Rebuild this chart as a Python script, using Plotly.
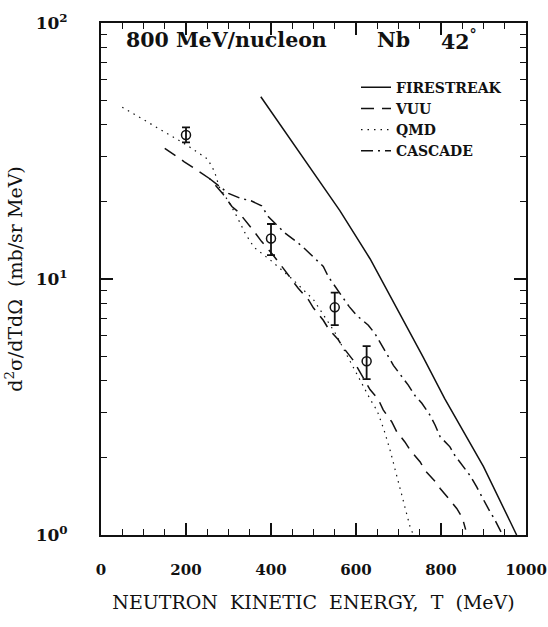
import plotly.graph_objects as go

# ---- data ----
fire_T = [376, 409, 489, 562, 633, 704, 758, 809, 900, 978]
fire_v = [51.5, 43.0, 27.5, 18.5, 12.0, 7.3, 4.95, 3.4, 1.85, 1.0]

vuu_T = [150, 178, 196, 225, 255, 286, 308, 323, 339, 358, 378, 400, 429, 452,
         464, 488, 500, 523, 535, 558, 570, 594, 617, 633, 652, 664, 684, 696,
         715, 727, 751, 762, 786, 798, 821, 837, 850, 858]
vuu_v = [32.4, 30.0, 28.7, 26.7, 24.7, 21.6, 19.2, 18.3, 17.0, 15.5, 14.0, 12.7, 11.0, 9.8,
         9.2, 8.3, 7.7, 6.9, 6.4, 5.8, 5.4, 4.8, 4.1, 3.7, 3.4, 3.08, 2.77, 2.53,
         2.31, 2.15, 1.93, 1.79, 1.62, 1.52, 1.37, 1.27, 1.17, 1.05]

qmd_T = [50, 100, 150, 200, 251, 267, 278, 304, 320, 340, 360, 400, 450, 500,
         550, 600, 633, 650, 665, 680, 700, 727, 735]
qmd_v = [46.9, 42.0, 37.5, 33.5, 29.4, 26.3, 22.9, 19.6, 17.5, 15.0, 13.3, 11.8, 10.0, 8.3,
         6.2, 4.3, 3.4, 3.05, 2.6, 2.15, 1.6, 1.08, 1.0]

casc_T = [255, 300, 327, 353, 378, 394, 433, 460, 480, 500, 523, 535, 584, 602,
          629, 645, 656, 674, 688, 702, 723, 739, 755, 774, 786, 798, 821, 833,
          849, 868, 884, 896, 911, 925, 945]
casc_v = [24.7, 21.6, 20.7, 20.2, 19.3, 17.5, 15.1, 14.0, 13.1, 12.2, 11.2, 10.2, 7.8, 7.2,
          6.6, 6.1, 5.7, 5.05, 4.6, 4.28, 3.85, 3.5, 3.27, 2.94, 2.69, 2.42, 2.21, 2.04,
          1.88, 1.71, 1.54, 1.41, 1.27, 1.16, 1.0]

exp_T = [200, 400, 550, 625]
exp_v = [36.5, 14.4, 7.75, 4.77]
exp_hi = [39.1, 16.4, 8.84, 5.47]
exp_lo = [34.2, 12.4, 6.6, 4.06]

x_ticks = [0, 200, 400, 600, 800, 1000]
y_ticks = [1, 10, 100]
y_ticktext = ["10<sup>0</sup>", "10<sup>1</sup>", "10<sup>2</sup>"]

FONT = "DejaVu Serif"
BLK = "#111111"

fig = go.Figure()
fig.add_trace(go.Scatter(x=fire_T, y=fire_v, mode="lines", name="FIRESTREAK",
                         line=dict(color=BLK, width=1.5, dash="solid")))
fig.add_trace(go.Scatter(x=vuu_T, y=vuu_v, mode="lines", name="VUU",
                         line=dict(color=BLK, width=1.5, dash="13px,8px")))
fig.add_trace(go.Scatter(x=qmd_T, y=qmd_v, mode="lines", name="QMD",
                         line=dict(color=BLK, width=1.2, dash="1.5px,5px")))
fig.add_trace(go.Scatter(x=casc_T, y=casc_v, mode="lines", name="CASCADE",
                         line=dict(color=BLK, width=1.5, dash="12px,5px,2px,5px")))
fig.add_trace(go.Scatter(
    x=exp_T, y=exp_v, mode="markers", showlegend=False,
    marker=dict(symbol="circle-open", size=9, color=BLK, line=dict(width=1.5, color=BLK)),
    error_y=dict(type="data", symmetric=False,
                 array=[h - v for h, v in zip(exp_hi, exp_v)],
                 arrayminus=[v - l for v, l in zip(exp_v, exp_lo)],
                 color=BLK, thickness=1.8, width=4)))

axis_common = dict(showline=True, linecolor=BLK, linewidth=2, mirror="allticks",
                   ticks="inside", tickcolor=BLK, showgrid=False, zeroline=False,
                   ticklabeloverflow="allow", automargin=False)

fig.update_xaxes(range=[0, 1000], tickvals=x_ticks, ticklen=12, tickwidth=1.5,
                 ticklabelstandoff=20,
                 tickfont=dict(family=FONT, size=15, color=BLK, weight="bold"),
                 minor=dict(dtick=50, ticks="inside", ticklen=6, tickwidth=1.2, tickcolor=BLK),
                 title=dict(text="NEUTRON  KINETIC  ENERGY,  T  (MeV)",
                            font=dict(family=FONT, size=19, color=BLK), standoff=18),
                 **axis_common)
fig.update_yaxes(type="log", range=[0, 2], tickvals=y_ticks, ticktext=y_ticktext,
                 ticklen=12, tickwidth=1.5, ticklabelstandoff=28,
                 tickfont=dict(family=FONT, size=17, color=BLK, weight="bold"),
                 minor=dict(dtick="D1", ticks="inside", ticklen=6, tickwidth=1.2, tickcolor=BLK),
                 title=dict(text="d<sup>2</sup>σ/dTdΩ  (mb/sr MeV)",
                            font=dict(family=FONT, size=19, color=BLK), standoff=8),
                 **axis_common)

for txt, xp in [("800 MeV/nucleon", 0.053), ("Nb", 0.645), ("42<sup>°</sup>", 0.795)]:
    fig.add_annotation(text=txt, xref="paper", yref="paper", x=xp, y=0.966,
                       xanchor="left", yanchor="middle", showarrow=False,
                       font=dict(family=FONT, size=20.5, color=BLK, weight="bold"))

fig.update_layout(
    width=548, height=627,
    margin=dict(l=101, r=22, t=23, b=92, autoexpand=False),
    paper_bgcolor="white", plot_bgcolor="white",
    legend=dict(x=0.6, y=0.905, xanchor="left", yanchor="top",
                bgcolor="rgba(0,0,0,0)", borderwidth=0, tracegroupgap=0,
                font=dict(family=FONT, size=14, color=BLK, weight="bold")),
)

fig.write_html("out.html")
